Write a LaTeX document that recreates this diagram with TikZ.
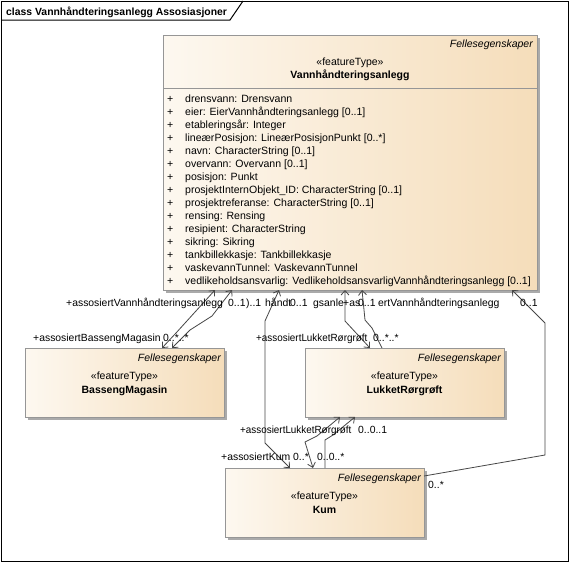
\documentclass[tikz,border=0pt]{standalone}
\usepackage{fontspec}
\usepackage{graphicx}
\setmainfont{Liberation Sans}
\usetikzlibrary{arrows.meta,shadows}
\definecolor{boxL}{RGB}{253,248,240}
\definecolor{boxR}{RGB}{245,221,186}
\definecolor{boxB}{RGB}{150,150,150}
\definecolor{lineC}{RGB}{70,70,70}
\definecolor{shad}{RGB}{170,170,170}
\tikzset{
  cls/.style={draw=boxB, line width=0.8pt, left color=boxL, right color=boxR,
    inner sep=0pt, outer sep=0pt, rectangle,
    general shadow={fill=shad, shadow xshift=3pt, shadow yshift=-3pt}},
  txt/.style={inner sep=0pt, anchor=base west, font=\fontsize{10.4}{12}\selectfont},
  atxt/.style={inner sep=0pt, anchor=base west, font=\fontsize{10.55}{12}\selectfont},
  ctxt/.style={inner sep=0pt, anchor=base, font=\fontsize{10.5}{12}\selectfont},
  btxt/.style={inner sep=0pt, anchor=base, font=\fontsize{10.5}{12}\selectfont\bfseries},
  rtxt/.style={inner sep=0pt, anchor=base east, font=\fontsize{10.5}{12}\selectfont\itshape},
  assoc/.style={draw=lineC, line width=0.8pt},
  Nav/.tip={Straight Barb[length=4.5pt,width=8pt]}
}
\begin{document}
\begin{tikzpicture}[x=1pt,y=-1pt]
\useasboundingbox (0,0) rectangle (570,563);
% frame
\draw[line width=1pt] (1,1) rectangle (568,561);
\draw[line width=1pt] (1,20) -- (230,20) -- (243,1);
\node[txt, font=\fontsize{10.4}{12}\selectfont\bfseries] (title) at (6,15) {class Vannhåndteringsanlegg Assosiasjoner};

% main class
\node[cls, minimum width=374pt, minimum height=255pt] (V) at (350,162.5) {};
\draw[draw=boxB, line width=0.8pt] (V.west |- 0,88) -- (V.east |- 0,88);
\node[rtxt] (vfe) at (533,47.5) {Fellesegenskaper};
\node[ctxt] (vst) at (350,65.5) {«featureType»};
\node[btxt] (vnm) at (350,78.5) {Vannhåndteringsanlegg};
\foreach \t [count=\i from 0] in {drensvann: Drensvann,
  eier: EierVannhåndteringsanlegg [0..1],
  etableringsår: Integer,
  lineærPosisjon: LineærPosisjonPunkt [0..*],
  navn: CharacterString [0..1],
  overvann: Overvann [0..1],
  posisjon: Punkt,
  prosjektInternObjekt\_ID: CharacterString [0..1],
  prosjektreferanse: CharacterString [0..1],
  rensing: Rensing,
  resipient: CharacterString,
  sikring: Sikring,
  tankbillekkasje: Tankbillekkasje,
  vaskevannTunnel: VaskevannTunnel,
  vedlikeholdsansvarlig: VedlikeholdsansvarligVannhåndteringsanlegg [0..1]}
{
  \node[atxt] (p\i) at (167,102.5+13*\i) {+};
  \node[atxt] (a\i) at (185,102.5+13*\i) {\t};
}

% BassengMagasin
\node[cls, minimum width=199pt, minimum height=69pt] (BM) at (124.5,382.5) {};
\node[rtxt] (bfe) at (221,361) {Fellesegenskaper};
\node[ctxt] (bst) at (124.5,379) {«featureType»};
\node[btxt] (bnm) at (124.5,393) {BassengMagasin};

% LukketRorgroft
\node[cls, minimum width=199pt, minimum height=69pt] (LR) at (404.5,382.5) {};
\node[rtxt] (lfe) at (501,361) {Fellesegenskaper};
\node[ctxt] (lst) at (404.5,379) {«featureType»};
\node[btxt] (lnm) at (404.5,393) {LukketRørgrøft};

% Kum
\node[cls, minimum width=199pt, minimum height=69pt] (K) at (324.5,502.5) {};
\node[rtxt] (kfe) at (421,481) {Fellesegenskaper};
\node[ctxt] (kst) at (324.5,499) {«featureType»};
\node[btxt] (knm) at (324.5,513) {Kum};

% connectors
\draw[assoc, {Nav}-{Nav}] ([xshift=52pt]V.south west) -- (176,333) -- ([xshift=137pt]BM.north west);
\draw[assoc, {Nav}-{Nav}] ([xshift=69pt]V.south west) -- (212,316) -- (190,330) -- ([xshift=147pt]BM.north west);
\draw[assoc, {Nav}-{Nav}] ([xshift=116pt]V.south west) -- (265,321) -- (265,443) -- ([xshift=65pt]K.north west);
\draw[assoc, {Nav}-{Nav}] ([xshift=182pt]V.south west) -- (345,321) -- ([xshift=65pt]LR.north west);
\draw[assoc, {Nav}-] ([xshift=199pt]V.south west) -- (365,320) -- (372,328) -- ([xshift=77pt]LR.north west);
\draw[assoc, {Nav}-] ([xshift=349pt]V.south west) -- (545,323) -- (545,455) -- ([yshift=-8pt]K.north east);
\draw[assoc, {Nav}-{Nav}] ([xshift=35pt]LR.south west) -- (317,436) -- (305,442) -- ([xshift=88pt]K.north west);
\draw[assoc, {Nav}-] ([xshift=50pt]LR.south west) -- (333,435) -- (325,440) -- ([xshift=100pt]K.north west);

% labels row 1
\node[txt] (l1) at (66,306) {+assosiertVannhåndteringsanlegg};
\node[txt] (l2) at (228,306) {0..1};
\node[txt] (l3) at (246,306) {)..1};
\node[txt] (l4) at (265,306) {håndt};
\node[txt] (l5) at (290,306) {0..1};
\node[txt] (l6) at (313,306) {gsanle};
\node[txt] (l7) at (343,306) {+as};
\node[txt] (l8) at (358,306) {0..1};
\node[txt] (l9) at (378,306) {ertVannhåndteringsanlegg};
\node[txt] (l10) at (520,306) {0..1};
% row 2
\node[txt] (m1) at (33,341) {+assosiertBassengMagasin};
\node[txt] (m2) at (163,341) {0..*..*};
\node[txt] (m3) at (256,341) {\scalebox{0.95}[1]{+assosiertLukketRørgrøft}};
\node[txt] (m4) at (373,341) {0..*..*};
% row 3
\node[txt] (n1) at (240,433) {\scalebox{0.95}[1]{+assosiertLukketRørgrøft}};
\node[txt] (n2) at (358,433) {0..0..1};
\node[txt] (n3) at (221,460) {+assosiertKum};
\node[txt] (n4) at (293,460) {0..*};
\node[txt] (n5) at (317,460) {0..0..*};
\node[txt] (n6) at (428,488) {0..*};
\end{tikzpicture}
\end{document}
